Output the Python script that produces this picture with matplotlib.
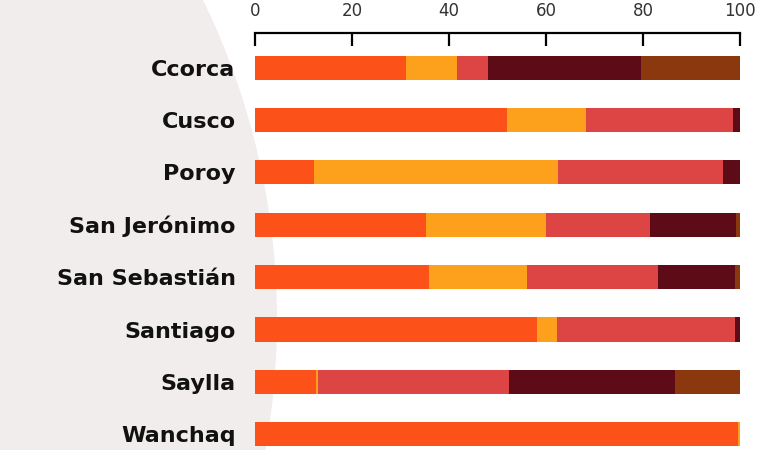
import numpy as np
import matplotlib
matplotlib.use('Agg')
import matplotlib.pyplot as plt
from matplotlib.patches import Circle

# Datos (porcentajes por distrito)
distritos = ['Ccorca', 'Cusco', 'Poroy', 'San Jerónimo', 'San Sebastián',
             'Santiago', 'Saylla', 'Wanchaq']
serie_1 = [31.1, 52.0, 12.2, 35.3, 35.9, 58.1, 12.6, 99.6]
serie_2 = [10.5, 16.2, 50.3, 24.7, 20.2, 4.2, 0.4, 0.4]
serie_3 = [6.4, 30.4, 34.0, 21.4, 27.0, 36.7, 39.4, 0.0]
serie_4 = [31.6, 1.4, 3.5, 17.8, 15.9, 1.0, 34.2, 0.0]
serie_5 = [20.4, 0.0, 0.0, 0.8, 1.0, 0.0, 13.4, 0.0]

series = [serie_1, serie_2, serie_3, serie_4, serie_5]
colores = ['#FC5119', '#FDA11D', '#DD4545', '#5C0B17', '#8B380E']

fig = plt.figure(figsize=(7.77, 4.5), dpi=100, facecolor='white')

# Forma de fondo gris claro
fondo = Circle((-4.52, 1.30), 7.29, transform=fig.dpi_scale_trans,
               facecolor='#F2EDED', edgecolor='none', zorder=0)
fig.add_artist(fondo)

ax = fig.add_axes([255 / 777, 0, 485 / 777, 417 / 450])
ax.set_facecolor('none')

y = np.arange(len(distritos))
izquierda = np.zeros(len(distritos))
for valores, color in zip(series, colores):
    valores = np.array(valores)
    ax.barh(y, valores, left=izquierda, height=0.46, color=color,
            edgecolor='none')
    izquierda += valores

ax.set_xlim(0, 100)
ax.set_ylim(7.3, -0.66)
ax.set_xticks([0, 20, 40, 60, 80, 100])
ax.set_yticks(y)
ax.set_yticklabels(distritos, fontsize=16, fontweight='bold', color='#111111')

ax.xaxis.tick_top()
ax.tick_params(axis='x', direction='in', length=9, width=1.6, color='black',
               labelsize=12, labelcolor='#333333', pad=9)
ax.tick_params(axis='y', length=0, pad=14)

for lado in ['right', 'left', 'bottom']:
    ax.spines[lado].set_visible(False)
ax.spines['top'].set_linewidth(1.6)
ax.spines['top'].set_color('black')

plt.savefig('out.png', dpi=100, facecolor='white')
